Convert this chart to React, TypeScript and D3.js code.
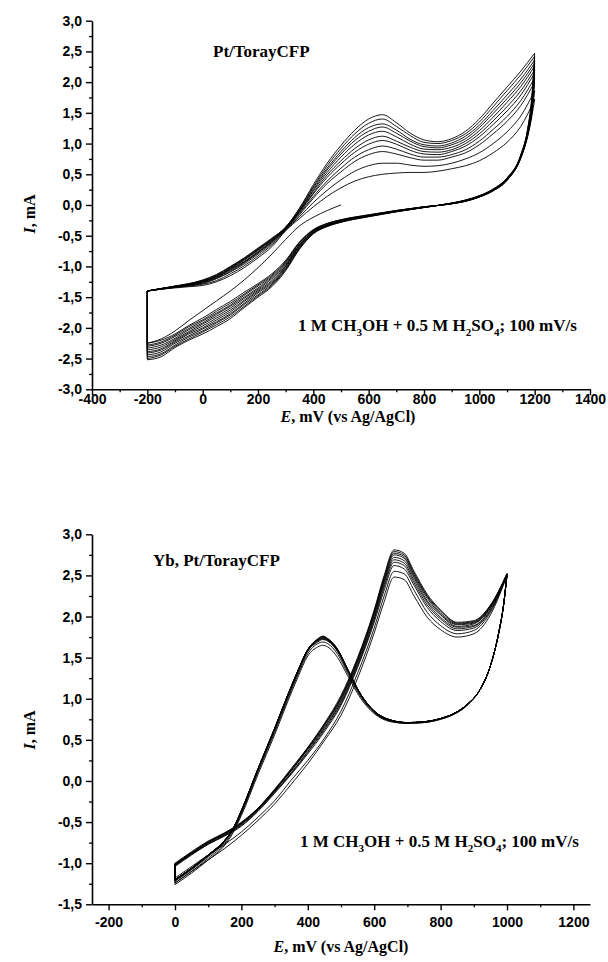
import React, { useRef, useEffect } from 'react';
import * as d3 from 'd3';

// ---------- upper panel: Pt/TorayCFP ----------
// anodic sweep potentials (mV)
const ptForwardE = [-200, -150, -100, -50, 0, 50, 100, 150, 200, 250, 300, 350, 400, 450, 500, 550, 600, 650, 700, 750, 800, 850, 900, 950, 1000, 1050, 1100, 1150, 1200];
// current (mA), one row per cycle, lowest peak first
const ptForwardI = [
  [-1.40, -1.37, -1.35, -1.33, -1.31, -1.25, -1.15, -1.02, -0.86, -0.68, -0.42, -0.22, -0.03, 0.14, 0.28, 0.39, 0.46, 0.50, 0.52, 0.53, 0.53, 0.55, 0.59, 0.64, 0.72, 0.85, 1.02, 1.28, 1.72],
  [-1.40, -1.37, -1.34, -1.32, -1.29, -1.23, -1.12, -0.99, -0.83, -0.65, -0.41, -0.19, 0.04, 0.24, 0.41, 0.55, 0.64, 0.68, 0.68, 0.65, 0.63, 0.64, 0.68, 0.75, 0.85, 1.00, 1.19, 1.45, 1.86],
  [-1.40, -1.37, -1.34, -1.31, -1.28, -1.20, -1.09, -0.96, -0.80, -0.63, -0.40, -0.16, 0.11, 0.35, 0.54, 0.71, 0.82, 0.87, 0.83, 0.77, 0.73, 0.73, 0.78, 0.85, 0.98, 1.16, 1.36, 1.62, 2.00],
  [-1.40, -1.37, -1.34, -1.31, -1.27, -1.19, -1.08, -0.94, -0.78, -0.61, -0.39, -0.14, 0.14, 0.39, 0.60, 0.78, 0.90, 0.96, 0.91, 0.83, 0.78, 0.78, 0.82, 0.90, 1.04, 1.23, 1.44, 1.70, 2.07],
  [-1.40, -1.36, -1.33, -1.30, -1.26, -1.18, -1.06, -0.93, -0.77, -0.60, -0.39, -0.12, 0.18, 0.45, 0.67, 0.86, 0.99, 1.05, 0.99, 0.89, 0.83, 0.82, 0.87, 0.96, 1.11, 1.31, 1.53, 1.79, 2.15],
  [-1.40, -1.36, -1.33, -1.30, -1.25, -1.17, -1.05, -0.92, -0.76, -0.59, -0.38, -0.11, 0.20, 0.49, 0.72, 0.92, 1.06, 1.12, 1.04, 0.94, 0.87, 0.86, 0.90, 1.00, 1.16, 1.37, 1.60, 1.86, 2.20],
  [-1.40, -1.36, -1.33, -1.29, -1.25, -1.16, -1.04, -0.90, -0.74, -0.58, -0.38, -0.10, 0.23, 0.53, 0.78, 0.99, 1.14, 1.20, 1.11, 0.99, 0.91, 0.90, 0.94, 1.04, 1.21, 1.43, 1.67, 1.93, 2.26],
  [-1.40, -1.36, -1.33, -1.29, -1.24, -1.16, -1.03, -0.89, -0.73, -0.57, -0.37, -0.09, 0.25, 0.57, 0.83, 1.05, 1.20, 1.27, 1.17, 1.04, 0.95, 0.93, 0.98, 1.08, 1.26, 1.49, 1.73, 1.99, 2.31],
  [-1.40, -1.36, -1.32, -1.29, -1.23, -1.15, -1.02, -0.88, -0.72, -0.56, -0.37, -0.08, 0.28, 0.60, 0.87, 1.10, 1.26, 1.32, 1.22, 1.07, 0.98, 0.96, 1.01, 1.12, 1.30, 1.54, 1.79, 2.05, 2.36],
  [-1.40, -1.36, -1.32, -1.28, -1.23, -1.14, -1.01, -0.87, -0.71, -0.55, -0.36, -0.06, 0.30, 0.64, 0.92, 1.16, 1.33, 1.40, 1.28, 1.13, 1.02, 1.00, 1.05, 1.16, 1.35, 1.60, 1.86, 2.12, 2.42],
  [-1.40, -1.36, -1.32, -1.28, -1.22, -1.13, -1.00, -0.86, -0.70, -0.54, -0.36, -0.05, 0.33, 0.68, 0.97, 1.22, 1.40, 1.47, 1.34, 1.17, 1.06, 1.03, 1.08, 1.20, 1.40, 1.66, 1.92, 2.18, 2.47],
];
// cathodic sweep potentials (mV), after the 1200 mV turn
const ptReverseE = [1190, 1175, 1150, 1100, 1050, 1000, 950, 900, 800, 700, 600, 500, 450, 400, 350, 300, 250, 200, 150, 100, 50, 0, -50, -100, -150, -200];
const ptReverseI = [
  [1.45, 1.12, 0.76, 0.40, 0.23, 0.13, 0.06, 0.02, -0.03, -0.09, -0.16, -0.24, -0.30, -0.40, -0.60, -0.90, -1.12, -1.28, -1.42, -1.57, -1.70, -1.84, -1.96, -2.10, -2.20, -2.25],
  [1.48, 1.13, 0.77, 0.40, 0.23, 0.13, 0.06, 0.02, -0.03, -0.09, -0.16, -0.24, -0.30, -0.41, -0.61, -0.92, -1.14, -1.30, -1.45, -1.60, -1.73, -1.87, -1.98, -2.12, -2.23, -2.28],
  [1.52, 1.15, 0.77, 0.41, 0.24, 0.13, 0.06, 0.02, -0.03, -0.09, -0.17, -0.25, -0.31, -0.41, -0.62, -0.93, -1.16, -1.32, -1.47, -1.63, -1.76, -1.89, -2.01, -2.14, -2.25, -2.30],
  [1.55, 1.16, 0.78, 0.41, 0.24, 0.14, 0.07, 0.02, -0.03, -0.10, -0.17, -0.25, -0.32, -0.42, -0.64, -0.95, -1.18, -1.35, -1.50, -1.65, -1.78, -1.92, -2.03, -2.17, -2.28, -2.33],
  [1.58, 1.17, 0.78, 0.42, 0.24, 0.14, 0.07, 0.02, -0.03, -0.10, -0.17, -0.26, -0.32, -0.43, -0.65, -0.97, -1.20, -1.37, -1.52, -1.68, -1.81, -1.94, -2.06, -2.19, -2.31, -2.36],
  [1.62, 1.19, 0.79, 0.42, 0.25, 0.14, 0.07, 0.03, -0.04, -0.10, -0.18, -0.26, -0.33, -0.44, -0.66, -0.99, -1.23, -1.39, -1.55, -1.71, -1.84, -1.97, -2.08, -2.21, -2.34, -2.39],
  [1.65, 1.20, 0.80, 0.42, 0.25, 0.14, 0.07, 0.03, -0.04, -0.10, -0.18, -0.26, -0.33, -0.44, -0.67, -1.00, -1.25, -1.41, -1.57, -1.74, -1.87, -2.00, -2.10, -2.23, -2.36, -2.41],
  [1.68, 1.21, 0.80, 0.43, 0.25, 0.14, 0.07, 0.03, -0.04, -0.10, -0.18, -0.27, -0.34, -0.45, -0.68, -1.02, -1.27, -1.43, -1.60, -1.77, -1.90, -2.02, -2.13, -2.25, -2.39, -2.44],
  [1.71, 1.22, 0.81, 0.43, 0.25, 0.15, 0.08, 0.03, -0.04, -0.11, -0.18, -0.27, -0.34, -0.46, -0.70, -1.04, -1.29, -1.46, -1.62, -1.79, -1.92, -2.05, -2.15, -2.28, -2.42, -2.47],
  [1.75, 1.24, 0.81, 0.44, 0.26, 0.15, 0.08, 0.03, -0.04, -0.11, -0.19, -0.28, -0.35, -0.46, -0.71, -1.05, -1.31, -1.48, -1.65, -1.82, -1.95, -2.07, -2.18, -2.30, -2.44, -2.50],
  [1.78, 1.25, 0.82, 0.44, 0.26, 0.15, 0.08, 0.03, -0.04, -0.11, -0.19, -0.28, -0.35, -0.47, -0.72, -1.07, -1.33, -1.50, -1.67, -1.85, -1.98, -2.10, -2.20, -2.32, -2.47, -2.52],
];
// very first sweep from the open-circuit start
const ptStartE = [500, 450, 400, 350, 300, 250, 200, 150, 100, 50, 0, -50, -100, -150, -200];
const ptStartI = [0.00, -0.09, -0.20, -0.34, -0.56, -0.80, -1.02, -1.22, -1.40, -1.56, -1.72, -1.88, -2.05, -2.18, -2.25];
const ptXTicks = [-400, -200, 0, 200, 400, 600, 800, 1000, 1200, 1400];
const ptYTicks = [-3, -2.5, -2, -1.5, -1, -0.5, 0, 0.5, 1, 1.5, 2, 2.5, 3];

// ---------- lower panel: Yb, Pt/TorayCFP ----------
const ybForwardE = [0, 50, 100, 150, 200, 250, 300, 350, 400, 450, 500, 550, 600, 630, 660, 690, 720, 760, 800, 850, 900, 950, 1000];
const ybForwardI = [
  [-1.24, -1.10, -0.96, -0.82, -0.66, -0.48, -0.28, -0.04, 0.21, 0.49, 0.80, 1.25, 1.80, 2.18, 2.48, 2.45, 2.25, 1.99, 1.84, 1.75, 1.79, 2.02, 2.50],
  [-1.18, -1.04, -0.90, -0.77, -0.62, -0.44, -0.24, 0.01, 0.25, 0.52, 0.85, 1.31, 1.86, 2.25, 2.55, 2.52, 2.32, 2.05, 1.89, 1.79, 1.83, 2.05, 2.50],
  [-1.04, -0.90, -0.77, -0.67, -0.55, -0.37, -0.15, 0.08, 0.33, 0.60, 0.92, 1.38, 1.93, 2.32, 2.62, 2.58, 2.38, 2.11, 1.94, 1.83, 1.86, 2.07, 2.51],
  [-1.03, -0.89, -0.77, -0.66, -0.54, -0.36, -0.14, 0.09, 0.35, 0.62, 0.94, 1.40, 1.96, 2.36, 2.66, 2.62, 2.41, 2.14, 1.97, 1.85, 1.88, 2.08, 2.51],
  [-1.03, -0.89, -0.76, -0.66, -0.53, -0.35, -0.13, 0.10, 0.36, 0.64, 0.96, 1.42, 1.98, 2.39, 2.69, 2.65, 2.44, 2.17, 1.99, 1.87, 1.89, 2.10, 2.51],
  [-1.02, -0.88, -0.75, -0.65, -0.52, -0.35, -0.12, 0.12, 0.38, 0.65, 0.98, 1.44, 2.01, 2.42, 2.72, 2.68, 2.47, 2.19, 2.02, 1.88, 1.91, 2.11, 2.51],
  [-1.02, -0.88, -0.75, -0.64, -0.52, -0.34, -0.12, 0.13, 0.39, 0.67, 1.00, 1.46, 2.03, 2.44, 2.75, 2.71, 2.49, 2.22, 2.03, 1.90, 1.92, 2.12, 2.52],
  [-1.01, -0.87, -0.74, -0.64, -0.51, -0.34, -0.11, 0.13, 0.40, 0.68, 1.01, 1.47, 2.05, 2.46, 2.77, 2.73, 2.51, 2.24, 2.05, 1.91, 1.93, 2.13, 2.52],
  [-1.01, -0.87, -0.74, -0.63, -0.51, -0.33, -0.11, 0.14, 0.40, 0.69, 1.02, 1.49, 2.06, 2.48, 2.79, 2.75, 2.53, 2.25, 2.07, 1.92, 1.94, 2.13, 2.52],
  [-1.00, -0.86, -0.73, -0.63, -0.50, -0.33, -0.10, 0.15, 0.41, 0.70, 1.04, 1.50, 2.08, 2.50, 2.81, 2.77, 2.55, 2.27, 2.08, 1.93, 1.95, 2.14, 2.52],
];
const ybReverseE = [990, 975, 950, 920, 880, 840, 800, 750, 700, 650, 600, 560, 520, 490, 460, 445, 430, 400, 370, 340, 300, 250, 200, 175, 150, 100, 50, 0];
const ybReverseI = [
  [2.15, 1.80, 1.40, 1.12, 0.92, 0.81, 0.75, 0.71, 0.70, 0.72, 0.82, 1.00, 1.28, 1.50, 1.63, 1.65, 1.63, 1.52, 1.26, 0.97, 0.56, 0.08, -0.42, -0.63, -0.78, -0.96, -1.12, -1.26],
  [2.15, 1.80, 1.40, 1.12, 0.92, 0.81, 0.75, 0.71, 0.70, 0.73, 0.83, 1.02, 1.31, 1.54, 1.67, 1.69, 1.67, 1.55, 1.29, 1.00, 0.59, 0.11, -0.40, -0.61, -0.76, -0.94, -1.10, -1.24],
  [2.15, 1.80, 1.40, 1.12, 0.93, 0.82, 0.76, 0.72, 0.71, 0.73, 0.84, 1.04, 1.34, 1.57, 1.70, 1.72, 1.69, 1.58, 1.32, 1.03, 0.62, 0.13, -0.38, -0.59, -0.74, -0.92, -1.08, -1.22],
  [2.15, 1.80, 1.40, 1.12, 0.93, 0.82, 0.76, 0.72, 0.71, 0.73, 0.84, 1.04, 1.34, 1.58, 1.71, 1.73, 1.70, 1.58, 1.32, 1.03, 0.62, 0.14, -0.37, -0.59, -0.73, -0.91, -1.07, -1.21],
  [2.15, 1.80, 1.40, 1.12, 0.93, 0.82, 0.76, 0.72, 0.71, 0.74, 0.85, 1.04, 1.35, 1.58, 1.71, 1.73, 1.71, 1.59, 1.33, 1.04, 0.63, 0.14, -0.37, -0.58, -0.73, -0.91, -1.07, -1.21],
  [2.15, 1.80, 1.40, 1.12, 0.93, 0.82, 0.76, 0.72, 0.71, 0.74, 0.85, 1.05, 1.35, 1.59, 1.72, 1.74, 1.71, 1.59, 1.33, 1.04, 0.63, 0.14, -0.36, -0.58, -0.72, -0.90, -1.06, -1.20],
  [2.15, 1.80, 1.40, 1.12, 0.93, 0.82, 0.76, 0.72, 0.71, 0.74, 0.85, 1.05, 1.35, 1.59, 1.72, 1.75, 1.72, 1.60, 1.34, 1.05, 0.64, 0.15, -0.36, -0.58, -0.72, -0.90, -1.06, -1.20],
  [2.15, 1.80, 1.40, 1.12, 0.93, 0.82, 0.76, 0.72, 0.71, 0.74, 0.85, 1.05, 1.36, 1.60, 1.73, 1.75, 1.72, 1.60, 1.34, 1.05, 0.64, 0.15, -0.36, -0.58, -0.72, -0.90, -1.06, -1.20],
  [2.15, 1.80, 1.40, 1.12, 0.93, 0.82, 0.76, 0.72, 0.71, 0.74, 0.85, 1.05, 1.36, 1.60, 1.73, 1.76, 1.72, 1.60, 1.34, 1.05, 0.64, 0.15, -0.36, -0.58, -0.72, -0.90, -1.06, -1.20],
  [2.15, 1.80, 1.40, 1.12, 0.93, 0.82, 0.76, 0.72, 0.71, 0.74, 0.85, 1.05, 1.36, 1.60, 1.73, 1.76, 1.73, 1.60, 1.34, 1.05, 0.64, 0.15, -0.36, -0.58, -0.72, -0.90, -1.06, -1.20],
];
const ybXTicks = [-200, 0, 200, 400, 600, 800, 1000, 1200];
const ybYTicks = [-1.5, -1, -0.5, 0, 0.5, 1, 1.5, 2, 2.5, 3];

const tickFont = '"Liberation Sans", Arial, sans-serif';
const serifFont = '"Liberation Serif", "Times New Roman", serif';

type Panel = {
  xDomain: [number, number];
  yDomain: [number, number];
  yRange: [number, number];
  xTicks: number[];
  yTicks: number[];
  xPad: number;
  fwdE: number[];
  fwdI: number[][];
  revE: number[];
  revI: number[][];
  turnE: number;
  startE?: number[];
  startI?: number[];
  title: string;
  titleX: number;
  titleY: number;
  noteX: number;
  noteY: number;
  xLabelX: number;
  xLabelY: number;
  yLabelY: number;
};

function drawPanel(svg: any, p: Panel) {
  const x = d3.scaleLinear().domain(p.xDomain).range([92, 590]);
  const y = d3.scaleLinear().domain(p.yDomain).range(p.yRange);
  const g = svg.append('g');

  const fmtY = (d: number) => d3.format('.1f')(d).replace('.', ',').replace('−', '-');
  const fmtX = (d: number) => d3.format('d')(d).replace('−', '-');

  // minor ticks
  const xMinor = d3.range(Math.ceil(p.xDomain[0] / 100) * 100, p.xDomain[1] + 1, 100).filter(v => !p.xTicks.includes(v));
  const yMinor = d3.range(p.yDomain[0], p.yDomain[1] + 0.01, 0.25).filter(v => !p.yTicks.some(t => Math.abs(t - v) < 1e-6));

  g.append('g').attr('transform', `translate(0, ${p.yRange[0]})`)
    .call(d3.axisBottom(x).tickValues(xMinor).tickSize(3).tickSizeOuter(0).tickFormat(() => ''))
    .call((s: any) => s.select('.domain').remove())
    .selectAll('line').attr('stroke-width', 1.3);
  g.append('g').attr('transform', 'translate(92, 0)')
    .call(d3.axisLeft(y).tickValues(yMinor).tickSize(3).tickSizeOuter(0).tickFormat(() => ''))
    .call((s: any) => s.select('.domain').remove())
    .selectAll('line').attr('stroke-width', 1.3);

  const xAxisG = g.append('g').attr('transform', `translate(0, ${p.yRange[0]})`)
    .call(d3.axisBottom(x).tickValues(p.xTicks).tickSize(6).tickSizeOuter(0).tickPadding(p.xPad).tickFormat(fmtX as any));
  xAxisG.select('.domain').attr('stroke-width', 1.6);
  xAxisG.selectAll('line').attr('stroke-width', 1.4);
  xAxisG.selectAll('text').style('font-family', tickFont).style('font-weight', 'bold').style('font-size', '14px');

  const yAxisG = g.append('g').attr('transform', 'translate(92, 0)')
    .call(d3.axisLeft(y).tickValues(p.yTicks).tickSize(6).tickSizeOuter(0).tickPadding(4).tickFormat(fmtY as any));
  yAxisG.select('.domain').attr('stroke-width', 1.6);
  yAxisG.selectAll('line').attr('stroke-width', 1.4);
  yAxisG.selectAll('text').style('font-family', tickFont).style('font-weight', 'bold').style('font-size', '14px');

  const line = d3.line<[number, number]>()
    .x(d => x(d[0]))
    .y(d => y(d[1]))
    .curve(d3.curveMonotoneX);

  const curves = g.append('g').attr('fill', 'none').attr('stroke', '#000').attr('stroke-width', 0.9);

  if (p.startE && p.startI) {
    const pts = p.startE.map((e, j) => [e, p.startI![j]] as [number, number]).reverse();
    curves.append('path').attr('d', line(pts));
    curves.append('line')
      .attr('x1', x(p.turnE)).attr('x2', x(p.turnE))
      .attr('y1', y(p.startI[p.startI.length - 1])).attr('y2', y(p.fwdI[0][0]));
  }

  p.fwdI.forEach((row, k) => {
    const fwd = p.fwdE.map((e, j) => [e, row[j]] as [number, number]);
    curves.append('path').attr('d', line(fwd));
    const last = fwd[fwd.length - 1];
    const rev = [last].concat(p.revE.map((e, j) => [e, p.revI[k][j]] as [number, number])).reverse();
    curves.append('path').attr('d', line(rev));
    // potential turn at the cathodic limit
    const revEnd = p.revI[k][p.revI[k].length - 1];
    const next = k + 1 < p.fwdI.length ? p.fwdI[k + 1][0] : row[0];
    curves.append('line')
      .attr('x1', x(p.turnE)).attr('x2', x(p.turnE))
      .attr('y1', y(revEnd)).attr('y2', y(next));
  });

  // panel title
  g.append('text')
    .attr('x', p.titleX).attr('y', p.titleY)
    .style('font-family', serifFont).style('font-weight', 'bold').style('font-size', '17px')
    .text(p.title);

  // electrolyte note with subscripts
  const note = g.append('text')
    .attr('x', p.noteX).attr('y', p.noteY)
    .style('font-family', serifFont).style('font-weight', 'bold').style('font-size', '17px');
  note.append('tspan').text('1 M CH');
  note.append('tspan').attr('dy', 5).style('font-size', '11px').text('3');
  note.append('tspan').attr('dy', -5).text('OH + 0.5 M H');
  note.append('tspan').attr('dy', 5).style('font-size', '11px').text('2');
  note.append('tspan').attr('dy', -5).text('SO');
  note.append('tspan').attr('dy', 5).style('font-size', '11px').text('4');
  note.append('tspan').attr('dy', -5).text('; 100 mV/s');

  // x label
  const xl = g.append('text')
    .attr('x', p.xLabelX).attr('y', p.xLabelY)
    .attr('text-anchor', 'middle')
    .style('font-family', serifFont).style('font-weight', 'bold').style('font-size', '16px');
  xl.append('tspan').style('font-style', 'italic').text('E');
  xl.append('tspan').text(', mV (vs Ag/AgCl)');

  // y label
  const yl = g.append('text')
    .attr('transform', `translate(35, ${p.yLabelY}) rotate(-90)`)
    .attr('text-anchor', 'middle')
    .style('font-family', serifFont).style('font-weight', 'bold').style('font-size', '16px');
  yl.append('tspan').style('font-style', 'italic').text('I');
  yl.append('tspan').text(',  mA');
}

const App = () => {
  const ref = useRef<SVGSVGElement>(null);

  useEffect(() => {
    const svg = d3.select(ref.current);
    svg.selectAll('*').remove();

    drawPanel(svg, {
      xDomain: [-400, 1400],
      yDomain: [-3, 3],
      yRange: [389.3, 20.7],
      xTicks: ptXTicks,
      yTicks: ptYTicks,
      xPad: -1,
      fwdE: ptForwardE,
      fwdI: ptForwardI,
      revE: ptReverseE,
      revI: ptReverseI,
      turnE: -200,
      startE: ptStartE,
      startI: ptStartI,
      title: 'Pt/TorayCFP',
      titleX: 213,
      titleY: 57,
      noteX: 298,
      noteY: 331,
      xLabelX: 348,
      xLabelY: 422,
      yLabelY: 214,
    });

    drawPanel(svg, {
      xDomain: [-250, 1250],
      yDomain: [-1.5, 3],
      yRange: [904.3, 534.3],
      xTicks: ybXTicks,
      yTicks: ybYTicks,
      xPad: 7,
      fwdE: ybForwardE,
      fwdI: ybForwardI,
      revE: ybReverseE,
      revI: ybReverseI,
      turnE: 0,
      title: 'Yb, Pt/TorayCFP',
      titleX: 153,
      titleY: 566,
      noteX: 300,
      noteY: 847,
      xLabelX: 341,
      xLabelY: 952,
      yLabelY: 730,
    });
  }, []);

  return (
    <svg ref={ref} width={608} height={962}
      style={{ position: 'absolute', left: 0, top: 0, background: 'white' }} />
  );
};

export default App;
